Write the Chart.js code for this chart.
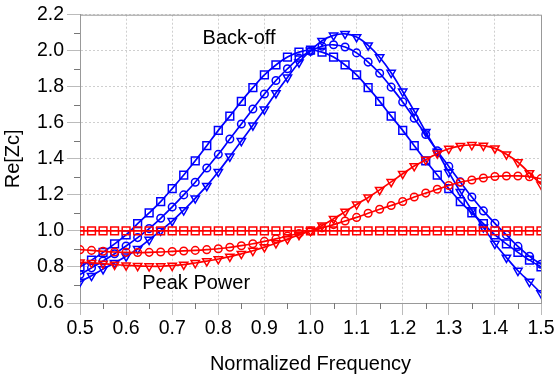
<!DOCTYPE html>
<html><head><meta charset="utf-8">
<script src="https://cdn.jsdelivr.net/npm/chart.js@4.4.1/dist/chart.umd.min.js"></script>
<style>html,body{margin:0;padding:0;background:#fff}canvas{display:block}</style>
</head><body>
<canvas id="c" width="558" height="381"></canvas>
<script>
const freq = [0.5,0.525,0.55,0.575,0.6,0.625,0.65,0.675,0.7,0.725,0.75,0.775,0.8,0.825,0.85,0.875,0.9,0.925,0.95,0.975,1.0,
  1.025,1.05,1.075,1.1,1.125,1.15,1.175,1.2,1.225,1.25,1.275,1.3,1.325,1.35,1.375,1.4,1.425,1.45,1.475,1.5];

const backoffSquare = [0.80,0.838,0.881,0.928,0.978,1.04,1.10,1.163,1.235,1.31,1.389,1.473,1.558,1.637,1.719,1.795,1.866,1.921,1.965,1.992,2.004,
  1.992,1.965,1.921,1.866,1.795,1.719,1.637,1.558,1.473,1.389,1.31,1.235,1.163,1.10,1.04,0.978,0.928,0.881,0.838,0.80];
const backoffCircle = [0.758,0.795,0.833,0.873,0.916,0.963,1.013,1.07,1.133,1.2,1.27,1.349,1.425,1.51,1.593,1.677,1.76,1.835,1.90,1.959,1.997,
  2.025,2.033,2.021,1.988,1.937,1.875,1.798,1.716,1.625,1.535,1.444,1.358,1.272,1.188,1.111,1.042,0.978,0.914,0.859,0.815];
const backoffTriangle = [0.718,0.751,0.788,0.822,0.859,0.90,0.951,1.002,1.055,1.115,1.181,1.25,1.328,1.413,1.499,1.586,1.674,1.765,1.852,1.935,2.0,
  2.055,2.085,2.094,2.076,2.03,1.964,1.878,1.774,1.665,1.55,1.44,1.326,1.217,1.115,1.02,0.929,0.852,0.779,0.718,0.655];
const peakSquare = [1,1,1,1,1,1,1,1,1,1,1,1,1,1,1,1,1,1,1,1,1,1,1,1,1,1,1,1,1,1,1,1,1,1,1,1,1,1,1,1,1];
const peakCircle = [0.896,0.892,0.887,0.883,0.881,0.88,0.881,0.883,0.886,0.889,0.892,0.896,0.901,0.909,0.918,0.929,0.942,0.956,0.971,0.986,1.0,
  1.017,1.035,1.055,1.075,1.098,1.12,1.141,1.163,1.188,1.21,1.231,1.252,1.27,1.283,1.294,1.302,1.305,1.305,1.301,1.29];
const peakTriangle = [0.826,0.823,0.818,0.813,0.809,0.806,0.804,0.804,0.807,0.813,0.822,0.832,0.844,0.857,0.873,0.89,0.91,0.932,0.955,0.978,1.0,
  1.03,1.067,1.107,1.147,1.186,1.228,1.272,1.317,1.36,1.395,1.43,1.456,1.472,1.477,1.473,1.458,1.425,1.381,1.321,1.258];

const xTickLabels = ['0.5','0.6','0.7','0.8','0.9','1.0','1.1','1.2','1.3','1.4','1.5'];
const yTickLabels = ['0.6','0.8','1.0','1.2','1.4','1.6','1.8','2.0','2.2'];
const notes = [
  {text:'Back-off', x:0.845, y:2.067},
  {text:'Peak Power', x:0.752, y:0.71}
];

const BLUE = '#0000ff', RED = '#ff0000';
const FONT = '"Liberation Sans", Arial, sans-serif';
const pts = arr => arr.map((v,i)=>({x:freq[i], y:v}));
function ds(data, color, style, radius, rot){
  return {data: pts(data), borderColor: color, borderWidth: 1.7, pointStyle: style, pointRadius: radius,
    pointRotation: rot||0, pointBorderColor: color, pointBackgroundColor: 'rgba(0,0,0,0)', pointBorderWidth: 1.5,
    tension: 0.3, fill: false};
}
const isMajorX = v => Math.round(v*100) % 10 === 0;
const isMajorY = v => Math.round(v*10) % 2 === 0;

const extras = {
  id: 'extras',
  afterDraw(chart){
    const {ctx, chartArea: a, scales:{x, y}} = chart;
    ctx.save();
    ctx.strokeStyle = '#999'; ctx.lineWidth = 1;
    ctx.beginPath();
    ctx.moveTo(a.left, a.top+0.5); ctx.lineTo(a.right+0.5, a.top+0.5); ctx.lineTo(a.right+0.5, a.bottom);
    ctx.stroke();
    ctx.strokeStyle = '#777';
    ctx.beginPath();
    x.ticks.forEach(t => { if(!isMajorX(t.value)){ const px = Math.round(x.getPixelForValue(t.value))+0.5; ctx.moveTo(px, a.bottom); ctx.lineTo(px, a.bottom+6);} });
    y.ticks.forEach(t => { if(!isMajorY(t.value)){ const py = Math.round(y.getPixelForValue(t.value))+0.5; ctx.moveTo(a.left-6, py); ctx.lineTo(a.left, py);} });
    ctx.stroke();
    ctx.fillStyle = '#000';
    ctx.font = '20px ' + FONT;
    ctx.textAlign = 'center'; ctx.textBaseline = 'middle';
    notes.forEach(n => ctx.fillText(n.text, x.getPixelForValue(n.x), y.getPixelForValue(n.y)));
    ctx.restore();
  }
};

new Chart(document.getElementById('c'), {
  type: 'line',
  data: { datasets: [
    ds(peakSquare, RED, 'rect', 5.5),
    ds(peakCircle, RED, 'circle', 3.8),
    ds(peakTriangle, RED, 'triangle', 4.8, 180),
    ds(backoffSquare, BLUE, 'rect', 5.5),
    ds(backoffCircle, BLUE, 'circle', 3.8),
    ds(backoffTriangle, BLUE, 'triangle', 4.8, 180)
  ]},
  options: {
    responsive: false, animation: false, devicePixelRatio: 1,
    layout: { padding: { left: 0, right: 17, top: 11, bottom: 0 } },
    plugins: { legend: { display: false }, tooltip: { enabled: false } },
    scales: {
      x: {
        type: 'linear', min: 0.5, max: 1.5,
        ticks: { stepSize: 0.05, autoSkip: false, maxRotation: 0, padding: 2, color: '#000',
          font: { family: FONT, size: 19.5 },
          callback: v => { if(!isMajorX(v)) return ''; const i = Math.round((v-0.5)*10); return xTickLabels[i]; } },
        grid: { color: c => (c.tick && isMajorX(c.tick.value)) ? '#cfcfcf' : 'rgba(0,0,0,0)',
          tickColor: c => (c.tick && isMajorX(c.tick.value)) ? '#bbbbbb' : 'rgba(0,0,0,0)',
          tickLength: 12, lineWidth: 1 },
        border: { color: '#999', width: 1, dash: [2,2] },
        title: { display: true, text: 'Normalized Frequency', color: '#000',
          font: { family: FONT, size: 20 }, padding: { top: 0, bottom: 5 } },
        afterFit: s => { s.height = 78; }
      },
      y: {
        type: 'linear', min: 0.6, max: 2.2,
        ticks: { stepSize: 0.1, autoSkip: false, padding: 3, color: '#000',
          font: { family: FONT, size: 19.5 },
          callback: v => { if(!isMajorY(v)) return ''; const i = Math.round((v-0.6)*5); return yTickLabels[i]; } },
        grid: { color: c => (c.tick && isMajorY(c.tick.value)) ? '#cfcfcf' : 'rgba(0,0,0,0)',
          tickColor: c => (c.tick && isMajorY(c.tick.value)) ? '#bbbbbb' : 'rgba(0,0,0,0)',
          tickLength: 13, lineWidth: 1 },
        border: { color: '#999', width: 1, dash: [2,2] },
        title: { display: true, text: 'Re[Zc]', color: '#000',
          font: { family: FONT, size: 20 }, padding: { top: 1, bottom: 0 } },
        afterFit: s => { s.width = 80; }
      }
    }
  },
  plugins: [extras]
});
</script>
</body></html>
